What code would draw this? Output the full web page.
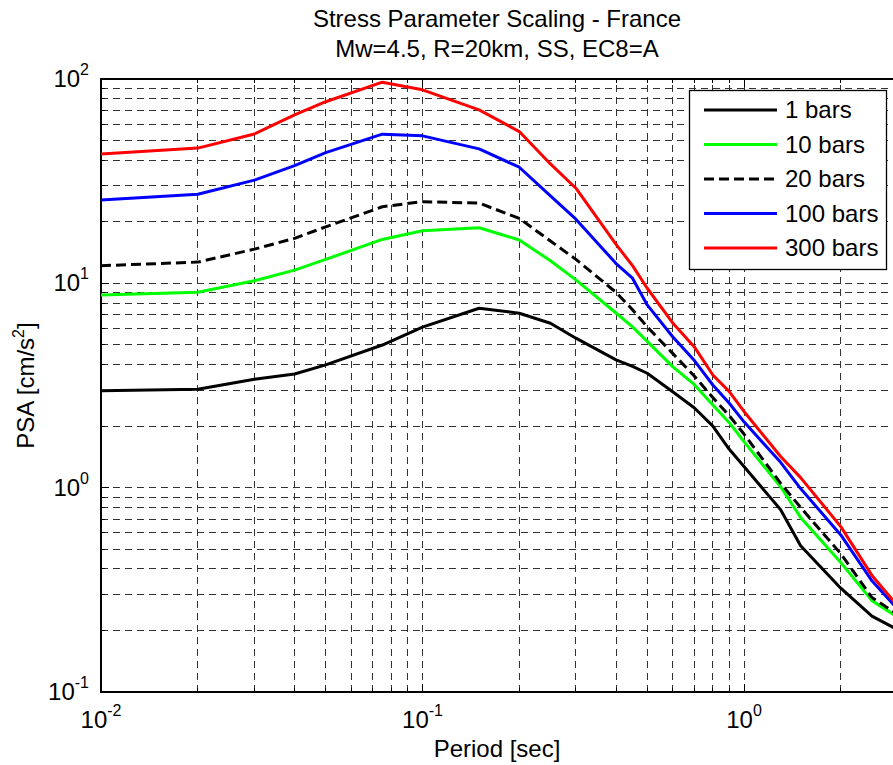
<!DOCTYPE html>
<html>
<head>
<meta charset="utf-8">
<script src="https://cdn.jsdelivr.net/npm/d3@7"></script>
<style>
  body { margin: 0; background: #fff; }
  text { font-family: "Liberation Sans", Arial, sans-serif; fill: #000; }
</style>
</head>
<body>
<div id="chart"></div>
<script>
// Periods (sec)
const periods = [0.01, 0.02, 0.03, 0.04, 0.05, 0.075, 0.1, 0.15, 0.2, 0.25, 0.3, 0.4, 0.45, 0.5, 0.6, 0.7, 0.8, 0.9, 1.0, 1.3, 1.5, 2.0, 2.5, 3.0];

// PSA [cm/s^2] per stress parameter
const psa1 = [2.98, 3.03, 3.39, 3.6, 3.99, 4.99, 6.1, 7.55, 7.14, 6.38, 5.39, 4.22, 3.92, 3.63, 2.95, 2.46, 2.0, 1.54, 1.27, 0.78, 0.52, 0.322, 0.235, 0.202];
const psa10 = [8.78, 9.04, 10.3, 11.6, 13.1, 16.4, 18.1, 18.7, 16.3, 12.9, 10.4, 7.16, 6.12, 5.2, 3.91, 3.2, 2.54, 2.08, 1.68, 1.01, 0.715, 0.43, 0.28, 0.233];
const psa20 = [12.2, 12.7, 14.7, 16.6, 18.9, 23.7, 25.1, 24.7, 20.8, 16.1, 13.1, 9.03, 7.43, 6.12, 4.54, 3.52, 2.76, 2.25, 1.83, 1.05, 0.8, 0.475, 0.29, 0.24];
const psa100 = [25.6, 27.3, 32.0, 37.7, 43.6, 53.7, 52.7, 45.5, 37.0, 26.8, 20.6, 12.5, 10.6, 7.84, 5.48, 4.2, 3.18, 2.59, 2.1, 1.33, 0.99, 0.587, 0.35, 0.255];
const psa300 = [43.0, 45.9, 53.8, 66.7, 77.4, 96.5, 88.5, 70.6, 55.3, 38.4, 29.2, 15.5, 12.2, 9.46, 6.4, 4.9, 3.56, 2.95, 2.36, 1.42, 1.12, 0.645, 0.372, 0.265];

const seriesLabels = ["1 bars", "10 bars", "20 bars", "100 bars", "300 bars"];
const seriesValues = [psa1, psa10, psa20, psa100, psa300];

const xMajor = [-2, -1, 0];
const yMajor = [-1, 0, 1, 2];

const config = {
  width: 893,
  height: 765,
  margin: { left: 101, top: 79, bottom: 73 },
  plotRight: 897.4,
  fontSize: "24px",
  supSize: "16px",
  colors: ["#000000", "#00ff00", "#000000", "#0000ff", "#ff0000"],
  dashes: [null, null, "10,5", null, null],
};

const svg = d3
  .select("#chart")
  .append("svg")
  .attr("width", config.width)
  .attr("height", config.height);

const x = d3
  .scaleLog()
  .domain([0.01, 3])
  .range([config.margin.left, config.plotRight]);

const y = d3
  .scaleLog()
  .domain([0.1, 100])
  .range([config.height - config.margin.bottom, config.margin.top]);

const x0 = config.margin.left;
const x1 = config.plotRight;
const y0 = config.height - config.margin.bottom;
const y1 = config.margin.top;

drawGrid();
drawFrame();
drawLines();
drawTickLabels();
drawTitles();
drawLegend();

function drawGrid() {
  const grid = svg.append("g").attr("class", "grid");
  const xTicks = x.ticks().filter((t) => t > 0.01 && t <= 3);
  const yTicks = y.ticks().filter((t) => t > 0.1 && t < 100);

  grid
    .selectAll("line.gx")
    .data(xTicks)
    .join("line")
    .attr("x1", (d) => x(d))
    .attr("x2", (d) => x(d))
    .attr("y1", y0)
    .attr("y2", y1);

  grid
    .selectAll("line.gy")
    .data(yTicks)
    .join("line")
    .attr("class", "gy")
    .attr("x1", x0)
    .attr("x2", x1)
    .attr("y1", (d) => y(d))
    .attr("y2", (d) => y(d));

  grid
    .selectAll("line")
    .attr("stroke", "#333")
    .attr("stroke-width", 1)
    .attr("stroke-dasharray", "7,5")
    .attr("shape-rendering", "crispEdges");

  // small tick marks on the inside of the frame
  const tk = svg.append("g").attr("stroke", "#000").attr("shape-rendering", "crispEdges");
  xTicks.forEach((t) => {
    const len = Number.isInteger(Math.log10(t)) ? 8 : 4;
    tk.append("line").attr("x1", x(t)).attr("x2", x(t)).attr("y1", y0).attr("y2", y0 - len);
    tk.append("line").attr("x1", x(t)).attr("x2", x(t)).attr("y1", y1).attr("y2", y1 + len);
  });
  yTicks.forEach((t) => {
    const len = Number.isInteger(Math.round(Math.log10(t) * 1e6) / 1e6) ? 8 : 4;
    tk.append("line").attr("x1", x0).attr("x2", x0 + len).attr("y1", y(t)).attr("y2", y(t));
  });
}

function drawFrame() {
  svg
    .append("path")
    .attr("d", `M${x1},${y1}H${x0}V${y0}H${x1}`)
    .attr("fill", "none")
    .attr("stroke", "#000")
    .attr("stroke-width", 1.3)
    .attr("shape-rendering", "crispEdges");
}

function drawLines() {
  svg
    .append("clipPath")
    .attr("id", "plot-clip")
    .append("rect")
    .attr("x", x0)
    .attr("y", y1)
    .attr("width", x1 - x0)
    .attr("height", y0 - y1);

  const line = d3
    .line()
    .x((d) => x(d[0]))
    .y((d) => y(d[1]));

  const g = svg.append("g").attr("clip-path", "url(#plot-clip)");
  seriesValues.forEach((vals, i) => {
    g.append("path")
      .datum(periods.map((p, j) => [p, vals[j]]))
      .attr("fill", "none")
      .attr("stroke", config.colors[i])
      .attr("stroke-width", 3)
      .attr("stroke-linejoin", "round")
      .attr("stroke-dasharray", config.dashes[i])
      .attr("d", line);
  });
}

function drawTickLabels() {
  xMajor.forEach((e) => {
    const t = svg
      .append("text")
      .attr("x", x(Math.pow(10, e)))
      .attr("y", 728)
      .attr("text-anchor", "middle")
      .style("font-size", config.fontSize);
    t.append("tspan").text("10");
    t.append("tspan").attr("dy", -12).style("font-size", config.supSize).text(e);
  });

  yMajor.forEach((e) => {
    const t = svg
      .append("text")
      .attr("x", 89)
      .attr("y", y(Math.pow(10, e)) + 8)
      .attr("text-anchor", "end")
      .style("font-size", config.fontSize);
    t.append("tspan").text("10");
    t.append("tspan").attr("dy", -12).style("font-size", config.supSize).text(e);
  });
}

function drawTitles() {
  const cx = 497;
  svg
    .append("text")
    .attr("x", cx)
    .attr("y", 27)
    .attr("text-anchor", "middle")
    .style("font-size", config.fontSize)
    .text("Stress Parameter Scaling - France");
  svg
    .append("text")
    .attr("x", cx)
    .attr("y", 57)
    .attr("text-anchor", "middle")
    .style("font-size", config.fontSize)
    .text("Mw=4.5, R=20km, SS, EC8=A");

  svg
    .append("text")
    .attr("x", cx)
    .attr("y", 757)
    .attr("text-anchor", "middle")
    .style("font-size", config.fontSize)
    .text("Period [sec]");

  const yl = svg
    .append("text")
    .attr("transform", `translate(34,${(y0 + y1) / 2}) rotate(-90)`)
    .attr("text-anchor", "middle")
    .style("font-size", config.fontSize);
  yl.append("tspan").text("PSA [cm/s");
  yl.append("tspan").attr("dy", -10).style("font-size", config.supSize).text("2");
  yl.append("tspan").attr("dy", 10).text("]");
}

function drawLegend() {
  const legend = svg.append("g").attr("class", "legend");
  legend
    .append("rect")
    .attr("x", 689.5)
    .attr("y", 90.5)
    .attr("width", 197)
    .attr("height", 179)
    .attr("fill", "#fff")
    .attr("stroke", "#000")
    .attr("stroke-width", 1.3);

  seriesLabels.forEach((label, i) => {
    const ly = 110 + i * 34.5;
    legend
      .append("line")
      .attr("x1", 704)
      .attr("x2", 777)
      .attr("y1", ly)
      .attr("y2", ly)
      .attr("stroke", config.colors[i])
      .attr("stroke-width", 3)
      .attr("stroke-dasharray", config.dashes[i]);
    legend
      .append("text")
      .attr("x", 785)
      .attr("y", ly + 8)
      .style("font-size", config.fontSize)
      .text(label);
  });
}
</script>
</body>
</html>
